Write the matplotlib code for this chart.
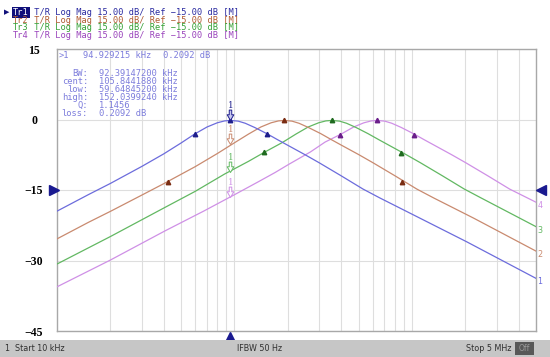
import numpy as np
import matplotlib
matplotlib.use("Agg")
import matplotlib.pyplot as plt
from matplotlib.path import Path
from matplotlib.patches import Rectangle
from matplotlib.ticker import NullLocator

# ---------------- data ----------------
tr1_f = [10, 15, 20, 30, 40, 50, 59.6, 70, 80, 88, 94.93, 105, 115, 130, 152, 175, 200, 250,
         300, 400, 530, 660, 1110, 2030, 5000]
tr1_db = [-19.5, -16.0, -13.6, -10.0, -7.3, -5.0, -3.1, -1.6, -0.7, -0.3, -0.2, -0.35, -0.8,
          -1.7, -3.0, -4.3, -5.5, -7.5, -9.2, -12.0, -14.8, -16.7, -21.0, -26.0, -33.8]

tr2_f = [10, 15, 20.1, 30, 40.2, 60.3, 80.4, 100.5, 120, 140.7, 160.8, 177, 191, 211, 231,
         261, 306, 352, 402, 503, 603, 804, 1065, 1327, 2230, 5000]
tr2_db = [-25.4, -21.9, -19.5, -16.1, -13.6, -10.0, -7.2, -4.9, -3.1, -1.6, -0.7, -0.3, -0.2,
          -0.35, -0.8, -1.7, -3.0, -4.3, -5.5, -7.5, -9.2, -12.0, -14.8, -16.7, -21.0, -28.0]

tr3_f = [10, 20, 40.6, 60, 88, 120, 147, 186, 222, 260, 298, 327, 353, 391, 428, 484, 565,
         651, 744, 930, 1116, 1488, 1972, 2455, 5000]
tr3_db = [-30.75, -24.9, -18.7, -15.3, -11.6, -8.9, -7.0, -4.9, -3.1, -1.6, -0.7, -0.3, -0.2,
          -0.35, -0.8, -1.7, -3.0, -4.3, -5.5, -7.5, -9.2, -12.0, -14.8, -16.7, -22.8]

tr4_f = [10, 20, 40.6, 67, 100, 134, 169, 201, 268, 324, 399, 469, 536, 590, 637, 703, 770,
         871, 1018, 1172, 1340, 1675, 2010, 2680, 3550, 5000]
tr4_db = [-35.6, -29.9, -23.7, -19.5, -16.0, -13.4, -11.3, -9.6, -6.9, -4.8, -3.1, -1.6, -0.7,
          -0.3, -0.2, -0.35, -0.8, -1.7, -3.0, -4.3, -5.5, -7.5, -9.2, -12.0, -14.8, -17.6]

# small triangle markers on each trace (kHz, dB)
mk1_f = [59.6, 94.93, 152];  mk1_db = [-3.1, -0.2, -3.0]
mk2_f = [42.4, 191, 879];    mk2_db = [-13.2, -0.2, -13.2]
mk3_f = [147, 353, 864];     mk3_db = [-7.0, -0.2, -7.2]
mk4_f = [393, 637, 1030];    mk4_db = [-3.3, -0.2, -3.2]

# marker "1" (94.929215 kHz) value on each trace
m1_freq = 94.929215
m1_db = [-0.2, -5.2, -11.1, -16.5]

trace_names = ["Tr1", "Tr2", "Tr3", "Tr4"]
header_rest = " T/R Log Mag 15.00 dB/ Ref \u221215.00 dB [M]"

y_ticks = [15, 0, -15, -30, -45]
y_tick_labels = ["15", "0", "\u221215", "\u221230", "\u221245"]
grid_freqs = [20, 30, 40, 50, 60, 70, 80, 90, 100, 200, 300, 400, 500, 600, 700, 800, 900,
              1000, 2000, 3000, 4000]

info_labels = ["BW:", "cent:", "low:", "high:", "Q:", "loss:"]
info_values = ["92.39147200 kHz", "105.8441880 kHz", "59.64845200 kHz",
               "152.0399240 kHz", "1.1456", "0.2092 dB"]

# ---------------- styling ----------------
W, H = 550, 357
line_cols = ["#6c6cdc", "#c98a6f", "#62b862", "#cf90e6"]
mark_cols = ["#1e1e8c", "#7a2c12", "#1f6a1f", "#6a1e8a"]
head_cols = ["#2a2aa0", "#b05a32", "#34a034", "#9a44bc"]
info_col = "#7d7ddc"
navy = "#1a1a90"

fig = plt.figure(figsize=(W / 100, H / 100), dpi=100)
fig.patch.set_facecolor("white")

def fx(px):
    return px / W

def fy(py):
    return 1 - py / H

L, R, T, B = 57, 536, 49, 331
ax = fig.add_axes([fx(L), fy(B), (R - L) / W, (B - T) / H])
ax.set_xscale("log")
ax.set_xlim(10e3, 5e6)
ax.set_ylim(-45, 15)
ax.xaxis.set_minor_locator(NullLocator())
ax.set_xticks([g * 1e3 for g in grid_freqs])
ax.set_xticklabels([])
ax.set_yticks(y_ticks)
ax.set_yticklabels(y_tick_labels, family="Liberation Serif", fontweight="bold",
                   fontsize=8.5, ha="center")
ax.tick_params(axis="both", length=0)
ax.tick_params(axis="y", pad=16.5)
ax.grid(True, color="#dedede", lw=0.8)
for s in ax.spines.values():
    s.set_color("#a8a8a8")
    s.set_linewidth(1.0)

traces = [(tr1_f, tr1_db), (tr2_f, tr2_db), (tr3_f, tr3_db), (tr4_f, tr4_db)]
marks = [(mk1_f, mk1_db), (mk2_f, mk2_db), (mk3_f, mk3_db), (mk4_f, mk4_db)]

for i in range(3, -1, -1):
    f, d = traces[i]
    ax.plot(np.array(f) * 1e3, d, color=line_cols[i], lw=0.9, zorder=3 + (3 - i),
            solid_joinstyle="round")
for i in range(4):
    f, d = marks[i]
    ax.plot(np.array(f) * 1e3, d, ls="none", marker="^", ms=3.2,
            color=mark_cols[i], zorder=10)
    ax.annotate(str(i + 1), (traces[i][0][-1] * 1e3, traces[i][1][-1]),
                xytext=(1.0, -2.5), textcoords="offset points", fontsize=5.8,
                color=line_cols[i], ha="left", va="center", annotation_clip=False)

# marker "1" arrows (open, tip on the trace)
arrow = Path([(-0.12, 1.0), (0.12, 1.0), (0.12, 0.55), (0.32, 0.55), (0.0, 0.0),
              (-0.32, 0.55), (-0.12, 0.55), (-0.12, 1.0)],
             [Path.MOVETO] + [Path.LINETO] * 6 + [Path.CLOSEPOLY])
for i in range(4):
    ec = mark_cols[0] if i == 0 else line_cols[i]
    ax.plot([m1_freq * 1e3], [m1_db[i]], ls="none", marker=arrow, ms=15,
            mfc="#c8c8f0" if i == 0 else "white", mec=ec, mew=0.7, zorder=12)
    ax.annotate("1", (m1_freq * 1e3, m1_db[i]), xytext=(0, 10.5),
                textcoords="offset points", fontsize=6.2, family="DejaVu Serif",
                color=ec, ha="center", va="center", zorder=13)

# reference triangles on the frame
ax.plot([-0.007], [-15], marker=">", ms=7, color=navy, transform=ax.get_yaxis_transform(),
        clip_on=False, zorder=20)
ax.plot([1.010], [-15], marker="<", ms=7, color=navy, transform=ax.get_yaxis_transform(),
        clip_on=False, zorder=20)
ax.plot([m1_freq * 1e3], [-0.022], marker="^", ms=7, color=navy,
        transform=ax.get_xaxis_transform(), clip_on=False, zorder=20)

# marker readout inside the plot
mono = "DejaVu Sans Mono"
fig.text(fx(59), fy(55), ">1", fontsize=6.3, family=mono, color=info_col,
         va="center", ha="left")
fig.text(fx(83), fy(55), "94.929215 kHz", fontsize=6.3, family=mono, color=info_col,
         va="center", ha="left")
fig.text(fx(163), fy(55), "0.2092 dB", fontsize=6.3, family=mono, color=info_col,
         va="center", ha="left")
for k, (lab, val) in enumerate(zip(info_labels, info_values)):
    yy = 73.3 + 8.1 * k
    fig.text(fx(88), fy(yy), lab, fontsize=6.3, family=mono, color=info_col,
             va="center", ha="right")
    fig.text(fx(99), fy(yy), val, fontsize=6.3, family=mono, color=info_col,
             va="center", ha="left")

# header lines
for k in range(4):
    yy = 12.5 + 7.6 * k
    if k == 0:
        fig.text(fx(13), fy(yy), trace_names[k], fontsize=6.2, family=mono, color="white",
                 va="center", ha="left",
                 bbox=dict(boxstyle="square,pad=0.12", fc="#10107a", ec="none"))
        fig.text(fx(4), fy(yy), "\u25b6", fontsize=5, color="#10107a", va="center", ha="left")
    else:
        fig.text(fx(13), fy(yy), trace_names[k], fontsize=6.2, family=mono,
                 color=head_cols[k], va="center", ha="left")
    fig.text(fx(13 + 3 * 5.2), fy(yy), header_rest, fontsize=6.2, family=mono,
             color=head_cols[k], va="center", ha="left")

# bottom status bar
fig.patches.append(Rectangle((0, 0), 1, 17 / H, transform=fig.transFigure,
                             fc="#c6c6c6", ec="none", zorder=0))
fig.patches.append(Rectangle((fx(515), fy(355)), 19 / W, 13 / H, transform=fig.transFigure,
                             fc="#585858", ec="none", zorder=1))
fig.text(fx(5), fy(348.5), "1  Start 10 kHz", fontsize=5.8, color="#303030",
         va="center", ha="left")
fig.text(fx(260), fy(348.5), "IFBW 50 Hz", fontsize=5.8, color="#303030",
         va="center", ha="center")
fig.text(fx(512), fy(348.5), "Stop 5 MHz", fontsize=5.8, color="#303030",
         va="center", ha="right")
fig.text(fx(524.5), fy(348.5), "Off", fontsize=5.5, color="#9a9a9a",
         va="center", ha="center")

fig.savefig("out.png", dpi=100)
